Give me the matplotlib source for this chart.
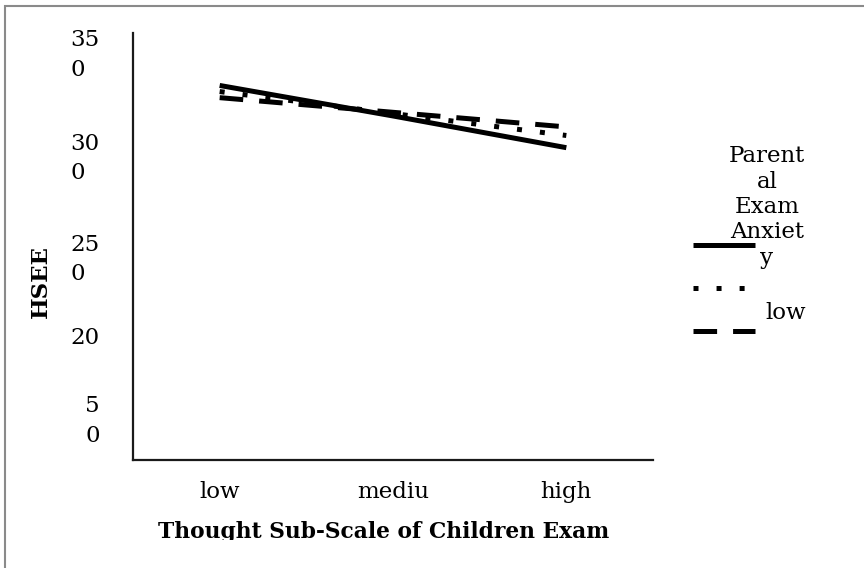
import matplotlib
matplotlib.use("Agg")
import matplotlib.pyplot as plt
from matplotlib.lines import Line2D
from matplotlib.patches import Rectangle
from matplotlib.transforms import Bbox, TransformedBbox

plt.rcParams["font.family"] = ["DejaVu Serif"]
plt.rcParams["lines.scale_dashes"] = False

# levels of the thought sub-scale
categories = ["low", "mediu", "high"]

# HSEE means per parental exam anxiety group
hsee_solid = [307, 282, 256]
hsee_dotted = [302, 284, 266]
hsee_dashed = [297, 285, 273]

# y tick labels as they appear (wrapped) in the source
ytick_values = [337, 252, 169, 102, 37]
ytick_labels = ["35\n0", "30\n0", "25\n0", "20", "5\n0"]

legend_title = "Parent\nal\nExam\nAnxiet\ny"
legend_label = "low"

W, H = 864, 568
fs = 16.5

fig = plt.figure(figsize=(W / 100, H / 100), dpi=100)
ax = fig.add_axes([133 / W, (H - 460) / H, 520 / W, 427 / H])

lw = 3.6
dotted = (0, (3.6, 13.0))
dashed = (0, (17.0, 11.5))
x = range(len(categories))
ax.plot(x, hsee_solid, color="black", lw=lw, solid_capstyle="butt")
ax.plot(x, hsee_dotted, color="black", lw=lw, linestyle=dotted, dash_capstyle="butt")
ax.plot(x, hsee_dashed, color="black", lw=lw, linestyle=dashed, dash_capstyle="butt")

ax.set_xlim(-0.5, 2.5)
ax.set_ylim(0, 350)
ax.set_xticks(list(x))
ax.set_xticklabels(categories, fontsize=fs)
ax.set_yticks(ytick_values)
ax.set_yticklabels(ytick_labels, fontsize=fs)
for t in ax.get_yticklabels():
    t.set_multialignment("left")
    t.set_linespacing(1.42)
ax.tick_params(axis="both", length=0)
ax.tick_params(axis="y", pad=24)
ax.tick_params(axis="x", pad=15)

for s in ["top", "right"]:
    ax.spines[s].set_visible(False)
for s in ["left", "bottom"]:
    ax.spines[s].set_linewidth(1.6)
    ax.spines[s].set_color("#1a1a1a")

ax.set_ylabel("HSEE", fontsize=fs, fontweight="bold")
ax.yaxis.set_label_coords(-0.156, 0.417)
xl = ax.set_xlabel("Thought Sub-Scale of Children Exam", fontsize=15.7, fontweight="bold")
ax.xaxis.set_label_coords(0.482, -0.143)
# the source cuts the axis title off at the bottom
clip = TransformedBbox(Bbox([[0, (H - 540) / H], [1, 1]]), fig.transFigure)
xl.set_clip_box(clip)
xl.set_clip_on(True)

# hand-drawn legend, like the source
fig.text(767 / W, 1 - 207 / H, legend_title, ha="center", va="center",
         multialignment="center", fontsize=fs)
for yy, ls in [(245, "-"), (288, dotted), (331, dashed)]:
    fig.add_artist(Line2D([693 / W, 755 / W], [1 - yy / H, 1 - yy / H],
                          transform=fig.transFigure, color="black", lw=lw,
                          linestyle=ls, solid_capstyle="butt", dash_capstyle="butt"))
fig.text(765 / W, 1 - 313 / H, legend_label, ha="left", va="center", fontsize=fs)

# gray frame of the chart area
fig.add_artist(Rectangle((5 / W, -0.1), 1.2, 1.1 - 6 / H, transform=fig.transFigure,
                         fill=False, edgecolor="#8a8a8a", lw=1.5))

fig.savefig("out.png", dpi=100)
